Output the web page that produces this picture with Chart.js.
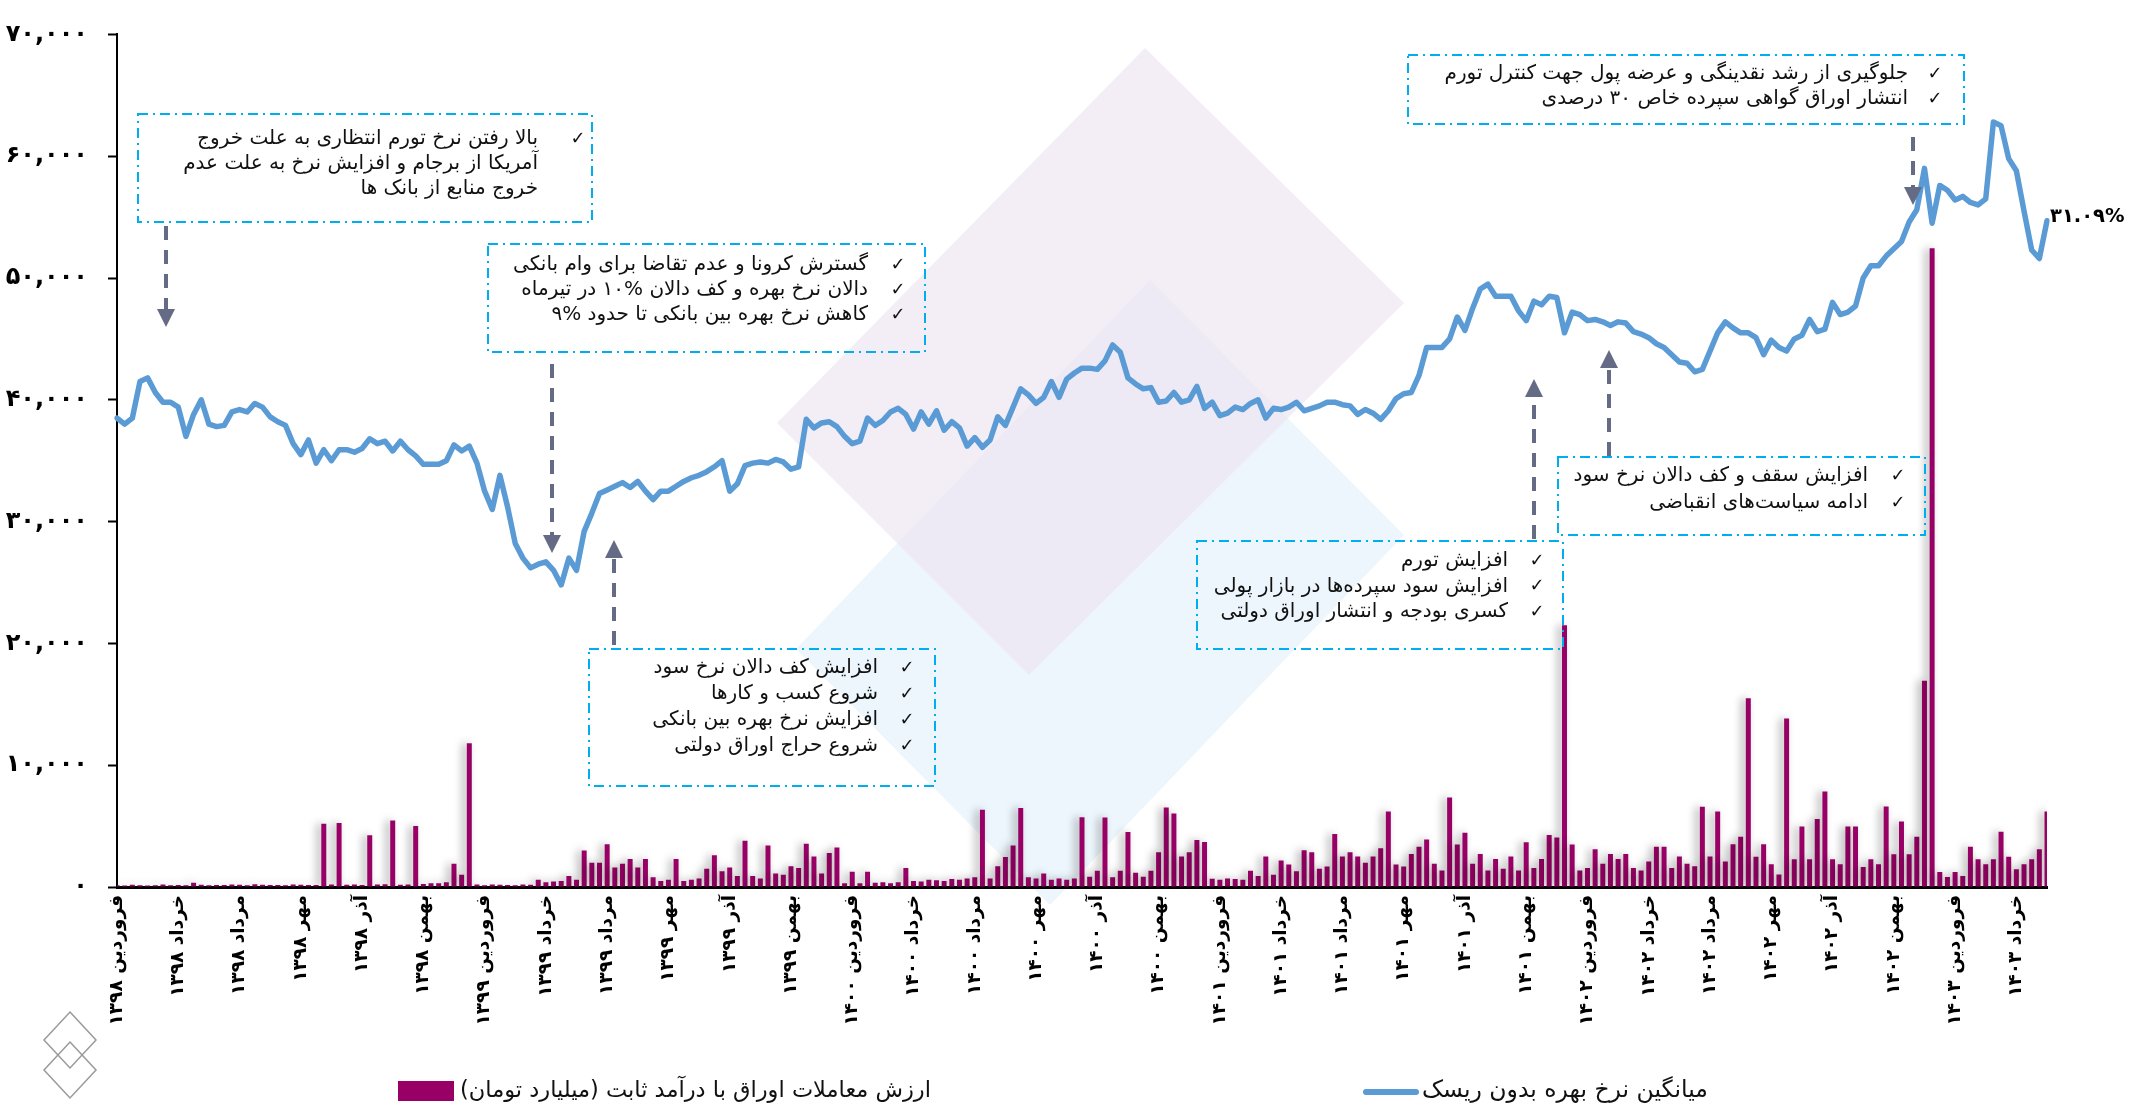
<!DOCTYPE html>
<html lang="fa">
<head>
  <meta charset="UTF-8" />
  <title>میانگین نرخ بهره بدون ریسک و ارزش معاملات اوراق با درآمد ثابت</title>
  <script src="https://cdn.jsdelivr.net/npm/chart.js@4.4.1/dist/chart.umd.min.js"></script>
  <style>
    html, body { margin: 0; padding: 0; background: #fff; }
    .wrap { position: relative; width: 2137px; height: 1106px; }
    canvas { direction: rtl; }
  </style>
</head>
<body>
  <div class="wrap"><canvas id="rateChart"></canvas></div>

  <script>
    // two-month tick labels (one every 8 weekly points)
    const monthLabels = [
      'فروردین ۱۳۹۸', 'خرداد ۱۳۹۸', 'مرداد ۱۳۹۸', 'مهر ۱۳۹۸', 'آذر ۱۳۹۸', 'بهمن ۱۳۹۸',
      'فروردین ۱۳۹۹', 'خرداد ۱۳۹۹', 'مرداد ۱۳۹۹', 'مهر ۱۳۹۹', 'آذر ۱۳۹۹', 'بهمن ۱۳۹۹',
      'فروردین ۱۴۰۰', 'خرداد ۱۴۰۰', 'مرداد ۱۴۰۰', 'مهر ۱۴۰۰', 'آذر ۱۴۰۰', 'بهمن ۱۴۰۰',
      'فروردین ۱۴۰۱', 'خرداد ۱۴۰۱', 'مرداد ۱۴۰۱', 'مهر ۱۴۰۱', 'آذر ۱۴۰۱', 'بهمن ۱۴۰۱',
      'فروردین ۱۴۰۲', 'خرداد ۱۴۰۲', 'مرداد ۱۴۰۲', 'مهر ۱۴۰۲', 'آذر ۱۴۰۲', 'بهمن ۱۴۰۲',
      'فروردین ۱۴۰۳', 'خرداد ۱۴۰۳'
    ];
    const pointsPerLabel = 8;

    const yTickLabels = ['۰', '۱۰,۰۰۰', '۲۰,۰۰۰', '۳۰,۰۰۰', '۴۰,۰۰۰', '۵۰,۰۰۰', '۶۰,۰۰۰', '۷۰,۰۰۰'];

    // risk free rate (weekly)
    const riskFreeRate = [
      38500, 38000, 38500, 41500, 41800, 40600, 39800, 39800, 39400, 37000,
      38800, 40000, 38000, 37800, 37900, 39000, 39200, 39000, 39700, 39400,
      38600, 38200, 37900, 36400, 35500, 36700, 34800, 35900, 35000, 35900,
      35900, 35700, 36000, 36800, 36400, 36600, 35800, 36600, 35900, 35400,
      34700, 34700, 34700, 35000, 36300, 35800, 36200, 34800, 32500, 31000,
      33800, 31200, 28200, 27000, 26200, 26500, 26700, 26000, 24800, 27000,
      26000, 29200, 30700, 32300, 32600, 32900, 33200, 32800, 33300, 32500,
      31800, 32500, 32500, 32900, 33300, 33600, 33800, 34100, 34500, 35000,
      32500, 33100, 34600, 34800, 34900, 34800, 35100, 34900, 34300, 34500,
      38400, 37700, 38100, 38200, 37800, 37000, 36400, 36600, 38500, 37900,
      38300, 39000, 39300, 38800, 37600, 39000, 38000, 39100, 37500, 38200,
      37700, 36200, 36900, 36100, 36700, 38600, 37900, 39400, 40900, 40400,
      39700, 40200, 41500, 40200, 41700, 42200, 42600, 42600, 42500, 43200,
      44500, 43900, 41800, 41300, 40900, 41000, 39800, 39900, 40600, 39800,
      40000, 41100, 39300, 39800, 38700, 38900, 39400, 39200, 39700, 40000,
      38500, 39300, 39200, 39400, 39800, 39100, 39300, 39500, 39800, 39800,
      39600, 39500, 38800, 39200, 38900, 38400, 39100, 40100, 40500, 40600,
      42000, 44300, 44300, 44300, 45000, 46800, 45700, 47500, 49100, 49500,
      48500, 48500, 48500, 47300, 46500, 48100, 47800, 48500, 48400, 45500,
      47200, 47000, 46500, 46600, 46400, 46100, 46400, 46300, 45600, 45400,
      45100, 44600, 44300, 43700, 43100, 43000, 42300, 42500, 44000, 45500,
      46400, 45900, 45500, 45500, 45100, 43700, 44900, 44300, 44000, 45000,
      45300, 46600, 45600, 45800, 48000, 47000, 47200, 47700, 50000, 51000,
      51000, 51800, 52400, 53000, 54600, 55600, 59000, 54500, 57600, 57200,
      56400, 56700, 56200, 56000, 56500, 62800, 62500, 59800, 58800, 55500,
      52300, 51600, 54700
    ];

    // fixed income trading value, billion toman
    const tradeValue = [
      150, 120, 180, 150, 130, 150, 200, 150, 170, 150,
      350, 180, 150, 170, 160, 200, 180, 150, 220, 180,
      160, 170, 150, 200, 180, 160, 170, 5200, 200, 5250,
      180, 200, 160, 4250, 200, 220, 5450, 180, 200, 5000,
      250, 300, 300, 400, 1900, 1000, 11800, 200, 150, 200,
      180, 160, 150, 200, 180, 600, 400, 450, 500, 900,
      600, 3000, 2000, 2000, 3500, 1600, 1900, 2300, 1600, 2300,
      800, 500, 600, 2300, 500, 600, 700, 1500, 2600, 1300,
      1600, 900, 3800, 900, 700, 3400, 1100, 1000, 1700, 1550,
      3550, 2500, 1100, 2800, 3250, 300, 1250, 300, 1250, 350,
      400, 300, 400, 1550, 500, 450, 600, 550, 500, 650,
      600, 700, 800, 6340, 700, 1700, 2470, 3400, 6490, 800,
      700, 1100, 600, 700, 600, 700, 5720, 840, 1340, 5700,
      800, 1340, 4520, 1170, 840, 1340, 2850, 6530, 6030, 2500,
      2850, 3850, 3690, 670, 600, 700, 650, 600, 1340, 900,
      2500, 1000, 2180, 1840, 1300, 3020, 2850, 1500, 1680, 4360,
      2500, 2850, 2500, 2000, 2500, 3180, 6200, 1840, 1680, 2700,
      3300, 3900, 1900, 1350, 7350, 3480, 4450, 1900, 2700, 1350,
      2300, 1500, 2500, 1350, 3680, 1550, 2300, 4260, 4060, 21500,
      3480, 1350, 1550, 3100, 1900, 2700, 2300, 2700, 1550, 1350,
      2100, 3300, 3300, 1550, 2500, 1900, 1700, 6580, 2500, 6190,
      2100, 3500, 4130, 15490, 2480, 3510, 1860, 1030, 13840, 2270,
      4960, 2270, 5580, 7850, 2270, 1860, 4960, 4960, 1650, 2270,
      1860, 6610, 2680, 5370, 2680, 4130, 16930, 52450, 1240, 830,
      1240, 900, 3300, 2270, 1860, 2270, 4540, 2480, 1450, 1860,
      2270, 3100, 6200
    ];

    const lastRateLabel = '۳۱.۰۹%';

    const categories = riskFreeRate.map((_, i) =>
      i % pointsPerLabel === 0 ? (monthLabels[i / pointsPerLabel] || '') : '');

    const FA = '"DejaVu Sans", sans-serif';
    const BLUE = '#5B9BD5';
    const PURPLE = '#990066';
    const BOX = '#00AEEF';
    const ARROW = '#666B85';

    // annotation boxes (page pixels)
    const notes = [
      { x: 138, y: 114, w: 454, h: 108, tx: 538, cx: 578, y0: 139, gap: 25, oneCheck: true,
        lines: ['بالا رفتن نرخ تورم انتظاری به علت خروج', 'آمریکا از برجام و افزایش نرخ به علت عدم', 'خروج منابع از بانک ها'] },
      { x: 488, y: 244, w: 437, h: 108, tx: 868, cx: 898, y0: 265, gap: 25,
        lines: ['گسترش کرونا و عدم تقاضا برای وام بانکی', 'دالان نرخ بهره و کف دالان %۱۰ در تیرماه', 'کاهش نرخ بهره بین بانکی تا حدود %۹'] },
      { x: 589, y: 649, w: 346, h: 137, tx: 878, cx: 907, y0: 668, gap: 26,
        lines: ['افزایش کف دالان نرخ سود', 'شروع کسب و کارها', 'افزایش نرخ بهره بین بانکی', 'شروع حراج اوراق دولتی'] },
      { x: 1197, y: 541, w: 366, h: 108, tx: 1508, cx: 1537, y0: 561, gap: 25.5,
        lines: ['افزایش تورم', 'افزایش سود سپرده‌ها در بازار پولی', 'کسری بودجه و انتشار اوراق دولتی'] },
      { x: 1558, y: 457, w: 367, h: 78, tx: 1868, cx: 1898, y0: 476, gap: 27,
        lines: ['افزایش سقف و کف دالان نرخ سود', 'ادامه سیاست‌های انقباضی'] },
      { x: 1408, y: 55, w: 556, h: 69, tx: 1908, cx: 1935, y0: 74, gap: 25,
        lines: ['جلوگیری از رشد نقدینگی و عرضه پول جهت کنترل تورم', 'انتشار اوراق گواهی سپرده خاص ۳۰ درصدی'] }
    ];
    const arrows = [
      { x: 166, from: 226, to: 327 },
      { x: 552, from: 364, to: 553 },
      { x: 614, from: 645, to: 540 },
      { x: 1534, from: 539, to: 379 },
      { x: 1609, from: 456, to: 350 },
      { x: 1913, from: 137, to: 205 }
    ];

    function poly(ctx, pts, fill) {
      ctx.beginPath();
      pts.forEach((p, i) => i ? ctx.lineTo(p[0], p[1]) : ctx.moveTo(p[0], p[1]));
      ctx.closePath();
      ctx.fillStyle = fill;
      ctx.fill();
    }

    // white page, faint watermark and the logo
    const backdrop = {
      id: 'backdrop',
      beforeDraw(chart) {
        const ctx = chart.ctx;
        ctx.save();
        ctx.fillStyle = '#fff';
        ctx.fillRect(0, 0, chart.width, chart.height);
        poly(ctx, [[1150, 280], [1404, 535], [1050, 905], [796, 649]], 'rgba(232,244,251,0.8)');
        poly(ctx, [[1145, 48], [1404, 303], [1029, 675], [777, 423]], 'rgba(238,230,242,0.7)');
        ctx.strokeStyle = '#9a9a9a';
        ctx.lineWidth = 1.5;
        [[70, 1040], [70, 1070]].forEach(c => {
          ctx.beginPath();
          ctx.moveTo(c[0], c[1] - 28); ctx.lineTo(c[0] + 26, c[1]);
          ctx.lineTo(c[0], c[1] + 28); ctx.lineTo(c[0] - 26, c[1]);
          ctx.closePath(); ctx.stroke();
        });
        ctx.restore();
      }
    };

    // soft grey shadow behind the bars
    const barShadow = {
      id: 'barShadow',
      beforeDatasetDraw(chart, args) {
        if (args.meta.type !== 'bar') return;
        const ctx = chart.ctx;
        ctx.save();
        ctx.shadowColor = 'rgba(0,0,0,0.35)';
        ctx.shadowBlur = 9;
        ctx.shadowOffsetX = -4;
      },
      afterDatasetDraw(chart, args) {
        if (args.meta.type === 'bar') chart.ctx.restore();
      }
    };

    // notes, arrows, end label and legend
    const overlay = {
      id: 'overlay',
      afterDraw(chart) {
        const ctx = chart.ctx;
        ctx.save();
        ctx.direction = 'rtl';

        notes.forEach(n => {
          ctx.strokeStyle = BOX;
          ctx.lineWidth = 2;
          ctx.setLineDash([10, 5, 2, 5]);
          ctx.strokeRect(n.x, n.y, n.w, n.h);
          ctx.setLineDash([]);
          ctx.fillStyle = '#111';
          ctx.textBaseline = 'middle';
          n.lines.forEach((t, i) => {
            const y = n.y0 + i * n.gap;
            ctx.font = '20px ' + FA;
            ctx.textAlign = 'right';
            ctx.fillText(t, n.tx, y);
            if (!n.oneCheck || i === 0) {
              ctx.font = '18px ' + FA;
              ctx.textAlign = 'center';
              ctx.fillText('✓', n.cx, y);
            }
          });
        });

        arrows.forEach(a => {
          const down = a.to > a.from;
          const s = down ? 1 : -1;
          const head = 18;
          ctx.strokeStyle = ARROW;
          ctx.fillStyle = ARROW;
          ctx.lineWidth = 4;
          ctx.setLineDash([14, 10]);
          ctx.beginPath();
          ctx.moveTo(a.x, a.from);
          ctx.lineTo(a.x, a.to - s * head);
          ctx.stroke();
          ctx.setLineDash([]);
          ctx.beginPath();
          ctx.moveTo(a.x - 9, a.to - s * head);
          ctx.lineTo(a.x + 9, a.to - s * head);
          ctx.lineTo(a.x, a.to);
          ctx.closePath();
          ctx.fill();
        });

        // value at the end of the line
        const meta = chart.getDatasetMeta(0);
        const last = meta.data[meta.data.length - 1];
        ctx.direction = 'ltr';
        ctx.font = 'bold 19.5px ' + FA;
        ctx.fillStyle = '#000';
        ctx.textAlign = 'left';
        ctx.textBaseline = 'middle';
        ctx.fillText(lastRateLabel, last.x + 3, last.y - 4);

        // legend
        ctx.direction = 'rtl';
        ctx.font = '22.5px ' + FA;
        ctx.textAlign = 'left';
        ctx.fillStyle = PURPLE;
        ctx.fillRect(398, 1081, 56, 20);
        ctx.fillStyle = '#111';
        ctx.fillText(chart.data.datasets[1].label, 460, 1091);
        ctx.strokeStyle = BLUE;
        ctx.lineWidth = 6;
        ctx.lineCap = 'round';
        ctx.beginPath();
        ctx.moveTo(1366, 1092);
        ctx.lineTo(1416, 1092);
        ctx.stroke();
        ctx.font = '23.5px ' + FA;
        ctx.fillText(chart.data.datasets[0].label, 1422, 1091);
        ctx.restore();
      }
    };

    const ctx = document.getElementById('rateChart').getContext('2d');
    const rateChart = new Chart(ctx, {
      type: 'bar',
      data: {
        labels: categories,
        datasets: [
          {
            type: 'line',
            label: 'میانگین نرخ بهره بدون ریسک',
            data: riskFreeRate,
            borderColor: BLUE,
            borderWidth: 5.5,
            pointRadius: 0,
            tension: 0,
            borderJoinStyle: 'round',
            borderCapStyle: 'round',
            order: 0
          },
          {
            type: 'bar',
            label: 'ارزش معاملات اوراق با درآمد ثابت (میلیارد تومان)',
            data: tradeValue,
            backgroundColor: PURPLE,
            barPercentage: 0.65,
            categoryPercentage: 1,
            order: 1
          }
        ]
      },
      options: {
        responsive: true,
        maintainAspectRatio: false,
        animation: false,
        layout: { padding: { top: 23, right: 90, bottom: 0, left: 0 } },
        plugins: {
          legend: { display: false },
          tooltip: { enabled: false }
        },
        scales: {
          x: {
            offset: false,
            grid: { display: false, drawTicks: false },
            border: { color: '#000', width: 3 },
            afterFit: axis => { axis.height = 219; },
            ticks: {
              autoSkip: false,
              minRotation: 90,
              maxRotation: 90,
              padding: 8,
              color: '#000',
              font: { family: FA, size: 18.5, weight: 'bold' },
              callback: function (v) { return this.getLabelForValue(v) || null; }
            }
          },
          y: {
            min: 0,
            max: 70000,
            grid: { drawOnChartArea: false, tickLength: 9, tickColor: '#000', tickWidth: 2 },
            border: { color: '#000', width: 2 },
            afterFit: axis => { axis.width = 117; },
            ticks: {
              stepSize: 10000,
              padding: 20,
              color: '#000',
              font: { family: FA, size: 24, weight: 'bold' },
              callback: v => yTickLabels[v / 10000]
            }
          }
        }
      },
      plugins: [backdrop, barShadow, overlay]
    });
  </script>
</body>
</html>
